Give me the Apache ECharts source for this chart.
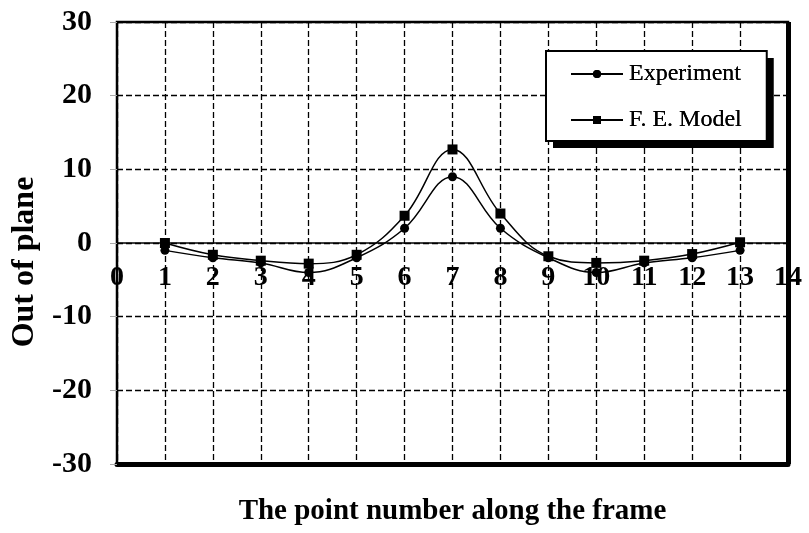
<!DOCTYPE html>
<html>
<head>
<meta charset="utf-8">
<script src="https://cdn.jsdelivr.net/npm/echarts@6/dist/echarts.min.js"></script>
<style>html,body{margin:0;padding:0;background:#fff;}#chart{width:809px;height:533px;}</style>
</head>
<body>
<div id="chart"></div>
<script>
var pointNumbers = [1, 2, 3, 4, 5, 6, 7, 8, 9, 10, 11, 12, 13];
var experiment = [-1, -2, -2.7, -4, -2, 2, 9, 2, -2, -4, -2.7, -2, -1];
var feModel = [0, -1.6, -2.4, -2.8, -1.6, 3.7, 12.7, 4, -1.8, -2.7, -2.4, -1.5, 0.1];
var seriesNames = ['Experiment', 'F. E. Model'];
var xTitle = 'The point number along the frame';
var yTitle = 'Out of plane';
var xRange = [0, 14];
var yRange = [-30, 30];

function pairs(xs, ys) { return xs.map(function (x, i) { return [x, ys[i]]; }); }

var font = 'Liberation Serif, Times New Roman, serif';
var chart = echarts.init(document.getElementById('chart'), null, { renderer: 'canvas' });
var dash = { color: '#000', width: 1.3, type: [6, 3] };

function legendBase(extra) {
  var base = {
    left: 546, top: 51, orient: 'vertical',
    padding: [11, 25, 9, 24], itemGap: 22, itemWidth: 52, itemHeight: 10,
    textStyle: { fontFamily: font, fontSize: 24, color: '#000', lineHeight: 24, padding: [0, 0, 0, 1] },
    data: seriesNames, selectedMode: false
  };
  for (var k in extra) base[k] = extra[k];
  return base;
}

chart.setOption({
  animation: false,
  backgroundColor: '#fff',
  grid: { left: 117, right: 21, top: 22, bottom: 69, outerBoundsMode: 'none', containLabel: false,
    show: true, borderColor: '#000', borderWidth: 2.5, backgroundColor: 'transparent' },
  legend: [
    legendBase({ backgroundColor: '#fff', borderWidth: 0, shadowColor: '#000', shadowBlur: 0, shadowOffsetX: 7, shadowOffsetY: 7 }),
    legendBase({ backgroundColor: 'transparent', borderColor: '#000', borderWidth: 2 })
  ],
  xAxis: {
    type: 'value', min: xRange[0], max: xRange[1], interval: 1, position: 'bottom',
    name: xTitle, nameLocation: 'middle', nameGap: 33, nameMoveOverlap: false,
    nameTextStyle: { fontFamily: font, fontSize: 29, fontWeight: 'bold', color: '#000' },
    axisLine: { onZero: false, lineStyle: { color: '#000', width: 5 } },
    axisTick: { show: false },
    axisLabel: { fontFamily: font, fontSize: 28, fontWeight: 'bold', color: '#000', margin: -200 },
    splitLine: { show: true, lineStyle: dash }
  },
  yAxis: {
    type: 'value', min: yRange[0], max: yRange[1], interval: 10,
    name: yTitle, nameLocation: 'middle', nameGap: 76, nameRotate: 90,
    nameTextStyle: { fontFamily: font, fontSize: 32, fontWeight: 'bold', color: '#000', padding: [0, 38, 0, 0] },
    axisLine: { onZero: false, lineStyle: { color: '#000', width: 2 } },
    axisTick: { show: true, length: 7, lineStyle: { color: '#aaa', width: 1 } },
    axisLabel: { fontFamily: font, fontSize: 30, fontWeight: 'bold', color: '#000', margin: 25 },
    splitLine: { show: true, lineStyle: dash }
  },
  series: [{
    name: seriesNames[0], type: 'line', smooth: 0.4, clip: false,
    data: pairs(pointNumbers, experiment),
    symbol: 'circle', symbolSize: 9,
    lineStyle: { color: '#000', width: 1.5 }, itemStyle: { color: '#000' }, z: 3,
    markLine: {
      silent: true, symbol: 'none', label: { show: false }, animation: false,
      emphasis: { disabled: true },
      data: [
        { xAxis: xRange[1], lineStyle: { color: '#000', width: 5, type: 'solid' } },
        { yAxis: 0, lineStyle: { color: '#000', width: 1.5, type: 'solid' } }
      ]
    }
  }, {
    name: seriesNames[1], type: 'line', smooth: 0.4,
    data: pairs(pointNumbers, feModel),
    symbol: 'rect', symbolSize: 10,
    lineStyle: { color: '#000', width: 1.5 }, itemStyle: { color: '#000' }, z: 3
  }]
});
</script>
</body>
</html>
